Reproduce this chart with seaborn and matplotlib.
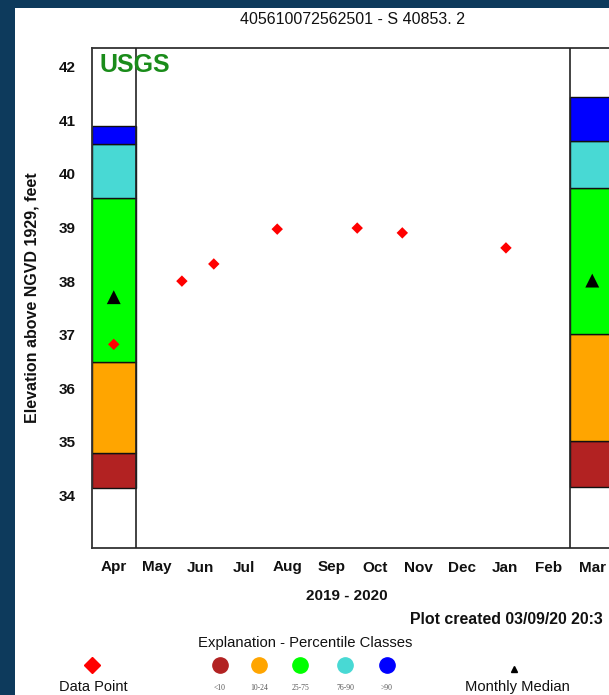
import calendar

import numpy as np
import pandas as pd
import matplotlib
matplotlib.use("Agg")
import matplotlib.pyplot as plt
from matplotlib.patches import Rectangle
import seaborn as sns

# ---- data ---------------------------------------------------------------
months = ["Apr", "May", "Jun", "Jul", "Aug", "Sep", "Oct", "Nov", "Dec",
          "Jan", "Feb", "Mar"]
start_year, start_month = 2019, 4

# percentile classes (lowest first)
class_labels = ["<10", "10-24", "25-75", "76-90", ">90"]
class_colors = ["#b22222", "#ffa500", "#00ff00", "#48d9d4", "#0000ff"]

# class boundaries in feet for the two monthly columns
apr_bounds = [34.14, 34.79, 36.49, 39.56, 40.56, 40.90]
mar_bounds = [34.16, 35.02, 37.01, 39.74, 40.62, 41.44]
apr_median = 37.70
mar_median = 38.01

# water-level observations
obs_dates = ["2019-04-16", "2019-06-03", "2019-06-25", "2019-08-09",
             "2019-10-04", "2019-11-05", "2020-01-17"]
obs_levels = [36.82, 38.00, 38.32, 38.97, 38.99, 38.90, 38.62]


def month_pos(d):
    """Fractional month position counted from the first month column."""
    d = pd.Timestamp(d)
    ndays = calendar.monthrange(d.year, d.month)[1]
    return (d.year - start_year) * 12 + (d.month - start_month) + (d.day - 1) / ndays


obs = pd.DataFrame({"pos": [month_pos(d) for d in obs_dates], "level": obs_levels})
medians = pd.DataFrame({"pos": [0.5, 11.5], "level": [apr_median, mar_median]})

# ---- figure -------------------------------------------------------------
sns.set_theme(style="white")
plt.rcParams["font.family"] = ["Liberation Sans", "DejaVu Sans"]

W, H = 609, 695
fig = plt.figure(figsize=(W / 100, H / 100), dpi=100)
fig.patch.set_facecolor("#0d3a5c")
fig.patches.append(Rectangle((15 / W, 0), 1, (H - 8) / H, transform=fig.transFigure,
                             facecolor="white", edgecolor="none", zorder=-5))

ax = fig.add_axes([92 / W, 147 / H, 522 / W, 500 / H], zorder=2)
ax.set_facecolor("white")
ax.set_xlim(0, 12)
ax.set_ylim(33.02, 42.35)

# percentile columns
for x0, bounds in ((0, apr_bounds), (11, mar_bounds)):
    for lo, hi, col in zip(bounds[:-1], bounds[1:], class_colors):
        ax.bar(x0 + 0.5, hi - lo, bottom=lo, width=1.0, color=col,
               edgecolor="#111111", linewidth=1.0, zorder=2)
for xv in (1, 11):
    ax.axvline(xv, color="#222222", linewidth=1.2, zorder=3)

sns.scatterplot(data=medians, x="pos", y="level", marker="^", s=100,
                color="black", edgecolor="none", ax=ax, zorder=5, legend=False)
sns.scatterplot(data=obs, x="pos", y="level", marker="D", s=34,
                color="red", edgecolor="none", ax=ax, zorder=6, legend=False)

ax.set_xticks(np.arange(len(months)) + 0.5)
ax.set_xticklabels(months, fontsize=11, fontweight="bold")
ax.set_yticks(range(34, 43))
ax.set_yticklabels([str(v) for v in range(34, 43)], fontsize=11, fontweight="bold")
ax.tick_params(axis="x", length=0, pad=9, colors="#111111")
ax.tick_params(axis="y", length=0, pad=12, colors="#111111")
ax.set_xlabel("")
ax.set_ylabel("Elevation above NGVD 1929, feet", fontsize=11.5, fontweight="bold",
              color="#111111")
ax.yaxis.set_label_coords(-0.101, 0.5)
for sp in ax.spines.values():
    sp.set_color("#333333")
    sp.set_linewidth(1.3)

ax.text(0.0153, 0.966, "USGS", transform=ax.transAxes, ha="left", va="center",
        fontsize=18, fontweight="bold", color="#1a8c1a", zorder=7)

# ---- titles and explanation ----------------------------------------------
def fy(y):
    return 1 - y / H

fig.text(352 / W, fy(19), "405610072562501 - S 40853. 2", ha="center", va="center",
         fontsize=11.5, color="#111111")
fig.text(347 / W, fy(596), "2019 - 2020", ha="center", va="center",
         fontsize=11, fontweight="bold", color="#111111")
fig.text(410 / W, fy(620), "Plot created 03/09/20 20:3", ha="left", va="center",
         fontsize=11.4, fontweight="bold", color="#111111")
fig.text(305 / W, fy(643), "Explanation - Percentile Classes", ha="center", va="center",
         fontsize=10.7, color="#111111")

leg = fig.add_axes([0, 0, 1, 1], zorder=10)
leg.set_xlim(0, W)
leg.set_ylim(H, 0)
leg.patch.set_visible(False)
leg.axis("off")
leg.plot(92, 665, marker="D", markersize=8, color="red", linestyle="none")
class_x = [220, 259, 300, 345, 387]
for cx, col, lab in zip(class_x, class_colors, class_labels):
    leg.plot(cx, 665, marker="o", markersize=11, color=col, linestyle="none")
    leg.text(cx, 688, lab, ha="center", va="center", fontsize=5.5,
             family=["Liberation Serif", "DejaVu Serif"], color="#555555")
leg.plot(514, 669, marker="^", markersize=4, color="black", linestyle="none")
leg.text(93, 687, "Data Point", ha="center", va="center", fontsize=10.5, color="#111111")
leg.text(517, 687, "Monthly Median", ha="center", va="center", fontsize=10.6,
         color="#111111")

fig.savefig("out.png", dpi=100, facecolor=fig.get_facecolor())
